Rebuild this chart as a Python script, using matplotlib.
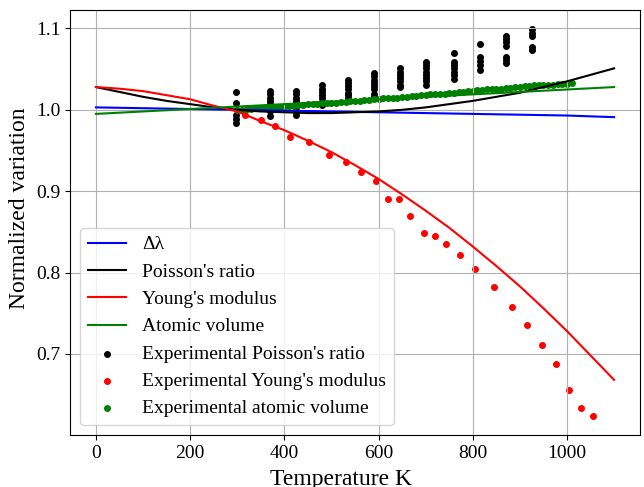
import numpy as np
import matplotlib
matplotlib.use("Agg")
import matplotlib.pyplot as plt

plt.rcParams['font.family'] = ['Liberation Serif', 'DejaVu Serif']
plt.rcParams['font.size'] = 14

# model curves, read at every 50 K
T_model = [0, 50, 100, 150, 200, 250, 300, 350, 400, 450, 500, 550,
           600, 650, 700, 750, 800, 850, 900, 950, 1000, 1050, 1100]
dlambda = [1.003, 1.0025, 1.002, 1.0015, 1.001, 1.0005, 1.000, 0.9995, 0.999, 0.9985, 0.998, 0.9975,
           0.997, 0.9965, 0.996, 0.9955, 0.995, 0.9945, 0.994, 0.9935, 0.993, 0.992, 0.991]
poisson = [1.028, 1.022, 1.016, 1.011, 1.007, 1.003, 1.000, 0.998, 0.997, 0.996, 0.996, 0.997,
           0.998, 1.000, 1.003, 1.007, 1.011, 1.016, 1.021, 1.028, 1.035, 1.043, 1.051]
young = [1.028, 1.026, 1.023, 1.018, 1.013, 1.005, 0.998, 0.986, 0.975, 0.962, 0.948, 0.932,
         0.915, 0.896, 0.876, 0.855, 0.832, 0.808, 0.783, 0.756, 0.728, 0.698, 0.668]
atomic = [0.995, 0.9965, 0.998, 0.9995, 1.001, 1.0025, 1.004, 1.0055, 1.007, 1.0085, 1.010, 1.0115,
          1.013, 1.0145, 1.016, 1.0175, 1.019, 1.0205, 1.022, 1.0235, 1.025, 1.0265, 1.028]

# experimental Poisson's ratio (several measurements per temperature)
T_exp_pr = ([298] * 5 + [370] * 8 + [425] * 8 + [480] * 7 + [535] * 7 + [590] * 8
            + [645] * 7 + [700] * 8 + [760] * 7 + [815] * 5 + [870] * 7 + [925] * 5)
exp_pr = [1.022, 1.008, 0.994, 0.989, 0.984,
          1.023, 1.019, 1.015, 1.011, 1.007, 1.003, 0.998, 0.992,
          1.023, 1.019, 1.015, 1.011, 1.007, 1.003, 0.998, 0.994,
          1.030, 1.026, 1.022, 1.018, 1.014, 1.010, 1.006,
          1.037, 1.033, 1.029, 1.025, 1.021, 1.018, 1.015,
          1.045, 1.041, 1.037, 1.033, 1.029, 1.025, 1.020, 1.016,
          1.051, 1.047, 1.043, 1.039, 1.035, 1.031, 1.028,
          1.059, 1.055, 1.051, 1.047, 1.043, 1.039, 1.035, 1.031,
          1.070, 1.059, 1.055, 1.051, 1.047, 1.043, 1.038,
          1.081, 1.065, 1.060, 1.055, 1.049,
          1.091, 1.087, 1.083, 1.078, 1.065, 1.061, 1.057,
          1.099, 1.095, 1.091, 1.077, 1.073]

# experimental Young's modulus
T_exp_ym = [317, 350, 381, 412, 452, 494, 531, 562, 594, 619, 643, 667, 696,
            719, 743, 773, 805, 846, 884, 915, 948, 977, 1004, 1030, 1055]
exp_ym = [0.994, 0.987, 0.980, 0.967, 0.960, 0.944, 0.936, 0.923, 0.912, 0.890,
          0.890, 0.870, 0.849, 0.845, 0.835, 0.822, 0.804, 0.782, 0.758, 0.735,
          0.711, 0.688, 0.655, 0.633, 0.624]

# experimental atomic volume, every 10 K
T_exp_av = list(range(300, 1011, 10))
exp_av = [1.000, 1.000, 1.001, 1.001, 1.002, 1.002, 1.003, 1.003, 1.003, 1.004,
          1.004, 1.005, 1.005, 1.006, 1.006, 1.007, 1.007, 1.007, 1.008, 1.008,
          1.009, 1.009, 1.010, 1.010, 1.011, 1.011, 1.011, 1.012, 1.012, 1.013,
          1.013, 1.014, 1.014, 1.015, 1.015, 1.016, 1.016, 1.017, 1.017, 1.018,
          1.018, 1.019, 1.019, 1.020, 1.020, 1.021, 1.021, 1.022, 1.022, 1.023,
          1.023, 1.024, 1.024, 1.025, 1.025, 1.026, 1.026, 1.027, 1.027, 1.028,
          1.028, 1.029, 1.029, 1.030, 1.030, 1.031, 1.031, 1.031, 1.032, 1.032,
          1.032, 1.033]

fig, ax = plt.subplots(figsize=(6.44, 4.87), dpi=100)
fig.subplots_adjust(left=0.1087, right=0.9938, bottom=0.1068, top=0.9795)

ax.plot(T_model, dlambda, color='blue', label='Δλ')
ax.plot(T_model, poisson, color='black', label="Poisson's ratio")
ax.plot(T_model, young, color='red', label="Young's modulus")
ax.plot(T_model, atomic, color='green', label='Atomic volume')
ax.scatter(T_exp_pr, exp_pr, s=16, color='black', label="Experimental Poisson's ratio")
ax.scatter(T_exp_ym, exp_ym, s=16, color='red', label="Experimental Young's modulus")
ax.scatter(T_exp_av, exp_av, s=16, color='green', label='Experimental atomic volume')

ax.grid(True)
ax.set_xlabel('Temperature K', fontsize=17, labelpad=5)
ax.set_ylabel('Normalized variation', fontsize=17)
ax.xaxis.label.set_x(0.4746)
ax.yaxis.label.set_y(0.534)
ax.legend(loc='lower left')

plt.savefig('out.png', dpi=100)
plt.close()
